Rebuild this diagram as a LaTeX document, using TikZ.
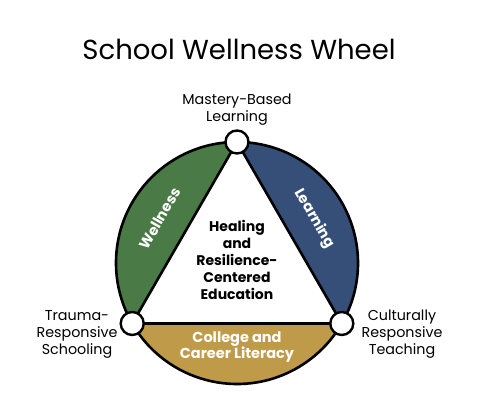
\documentclass[tikz,border=0pt]{standalone}
\usepackage{fontspec}
\setmainfont{Poppins}
\usetikzlibrary{positioning}
\definecolor{wellgreen}{HTML}{4A7A45}
\definecolor{learnblue}{HTML}{354F78}
\definecolor{careergold}{HTML}{BF9A48}

\begin{document}
\begin{tikzpicture}[x=1pt,y=1pt]
	\tikzset{segment/.style={draw=black,line width=2.6pt,line join=round}}
	\tikzset{joint/.style={circle,draw=black,fill=white,line width=2.4pt,minimum size=23pt,inner sep=0pt}}
	\tikzset{outer/.style={align=center,font=\fontsize{14.3}{17}\selectfont}}
	\tikzset{inner/.style={align=center,text=white,font=\fontsize{14.5}{16}\selectfont\bfseries}}

	\useasboundingbox (0,0) rectangle (480,420);
	\coordinate (c) at (237,157);

	\node (title) at (239,371) {\fontsize{27.5}{32}\selectfont School Wellness Wheel};

	% the three segments of the wheel
	\draw[segment,fill=wellgreen,shift={(c)}] (90:121) arc[start angle=90,end angle=210,radius=121] -- cycle;
	\draw[segment,fill=learnblue,shift={(c)}] (-30:121) arc[start angle=-30,end angle=90,radius=121] -- cycle;
	\draw[segment,fill=careergold,shift={(c)}] (210:121) arc[start angle=210,end angle=330,radius=121] -- cycle;

	\node[joint] (mastery) at ([shift={(90:121)}]c) {};
	\node[joint] (trauma) at ([shift={(210:121)}]c) {};
	\node[joint] (cultural) at ([shift={(330:121)}]c) {};

	\node[inner,rotate=60] (wellness) at ([shift={(150:89)}]c) {Wellness};
	\node[inner,rotate=-60] (learning) at ([shift={(30:89)}]c) {Learning};
	\node[inner] (career) at ([shift={(270:84)}]c) {College and\\Career Literacy};

	\node[align=center,font=\fontsize{14}{17.2}\selectfont\bfseries] (healing) at (237,160)
		{Healing\\and\\Resilience-\\Centered\\Education};

	\node[outer,above=0pt of mastery] (masterytxt) {Mastery-Based\\Learning};
	\node[outer] (traumatxt) at (77,86) {Trauma-\\Responsive\\Schooling};
	\node[outer] (culturaltxt) at (402,86) {Culturally\\Responsive\\Teaching};
\end{tikzpicture}
\end{document}
